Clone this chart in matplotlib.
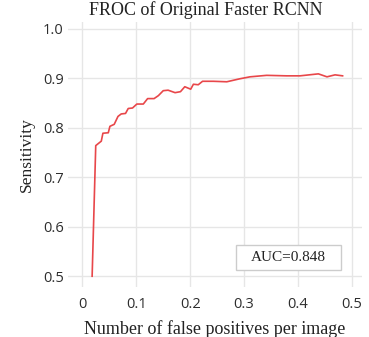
import matplotlib
matplotlib.use("Agg")
import matplotlib.pyplot as plt
from matplotlib.patches import Rectangle

# FROC curve points
fps = [0.018, 0.0247, 0.035, 0.038, 0.048, 0.051, 0.059, 0.066, 0.072, 0.080,
       0.085, 0.093, 0.101, 0.113, 0.121, 0.133, 0.141, 0.150, 0.159, 0.172,
       0.182, 0.190, 0.201, 0.206, 0.215, 0.223, 0.243, 0.268, 0.292, 0.311,
       0.342, 0.379, 0.404, 0.438, 0.454, 0.469, 0.483]
sensitivity = [0.500, 0.764, 0.773, 0.789, 0.790, 0.803, 0.807, 0.823, 0.828, 0.829,
               0.839, 0.840, 0.848, 0.848, 0.859, 0.859, 0.865, 0.875, 0.876, 0.871,
               0.873, 0.883, 0.878, 0.888, 0.887, 0.894, 0.894, 0.893, 0.899, 0.903,
               0.906, 0.905, 0.905, 0.909, 0.903, 0.907, 0.905]
auc = 0.848

xticks = [0, 0.1, 0.2, 0.3, 0.4, 0.5]
xticklabels = ["0", "0.1", "0.2", "0.3", "0.4", "0.5"]
yticks = [0.5, 0.6, 0.7, 0.8, 0.9, 1.0]
yticklabels = ["0.5", "0.6", "0.7", "0.8", "0.9", "1.0"]

serif = "Liberation Serif"

fig = plt.figure(figsize=(3.69, 3.37), dpi=100)
ax = fig.add_axes([0.184, 0.148, 0.797, 0.787])

ax.plot(fps, sensitivity, color="#e8474a", lw=1.2)

ax.set_xlim(-0.027, 0.519)
ax.set_ylim(0.478, 1.014)
ax.set_xticks(xticks)
ax.set_xticklabels(xticklabels)
ax.set_yticks(yticks)
ax.set_yticklabels(yticklabels)
ax.grid(True, color="#e6e6e6", lw=1.0)
ax.set_axisbelow(True)
for s in ax.spines.values():
    s.set_visible(False)
ax.tick_params(length=0, labelsize=10.5, labelcolor="#2e2e2e")
ax.tick_params(axis="y", pad=3)
ax.tick_params(axis="x", pad=7)
for lab in ax.get_xticklabels() + ax.get_yticklabels():
    lab.set_fontfamily("Open Sans")

ax.set_title("FROC of Original Faster RCNN", fontfamily=serif, fontsize=13,
             color="#222222", x=0.468, pad=5)
ax.set_xlabel("Number of false positives per image", fontfamily=serif,
              fontsize=13, color="#222222", labelpad=6)
ax.set_ylabel("Sensitivity", fontfamily=serif, fontsize=12.5, color="#222222",
              labelpad=6)

# AUC annotation box
ax.add_patch(Rectangle((0.2845, 0.5135), 0.195, 0.0505, fc="white",
                       ec="#cccccc", lw=1, zorder=3))
ax.text(0.382, 0.5385, "AUC=%.3f" % auc, fontfamily=serif, fontsize=11,
        ha="center", va="center", color="#222222", zorder=4)

fig.savefig("out.png", dpi=100)
